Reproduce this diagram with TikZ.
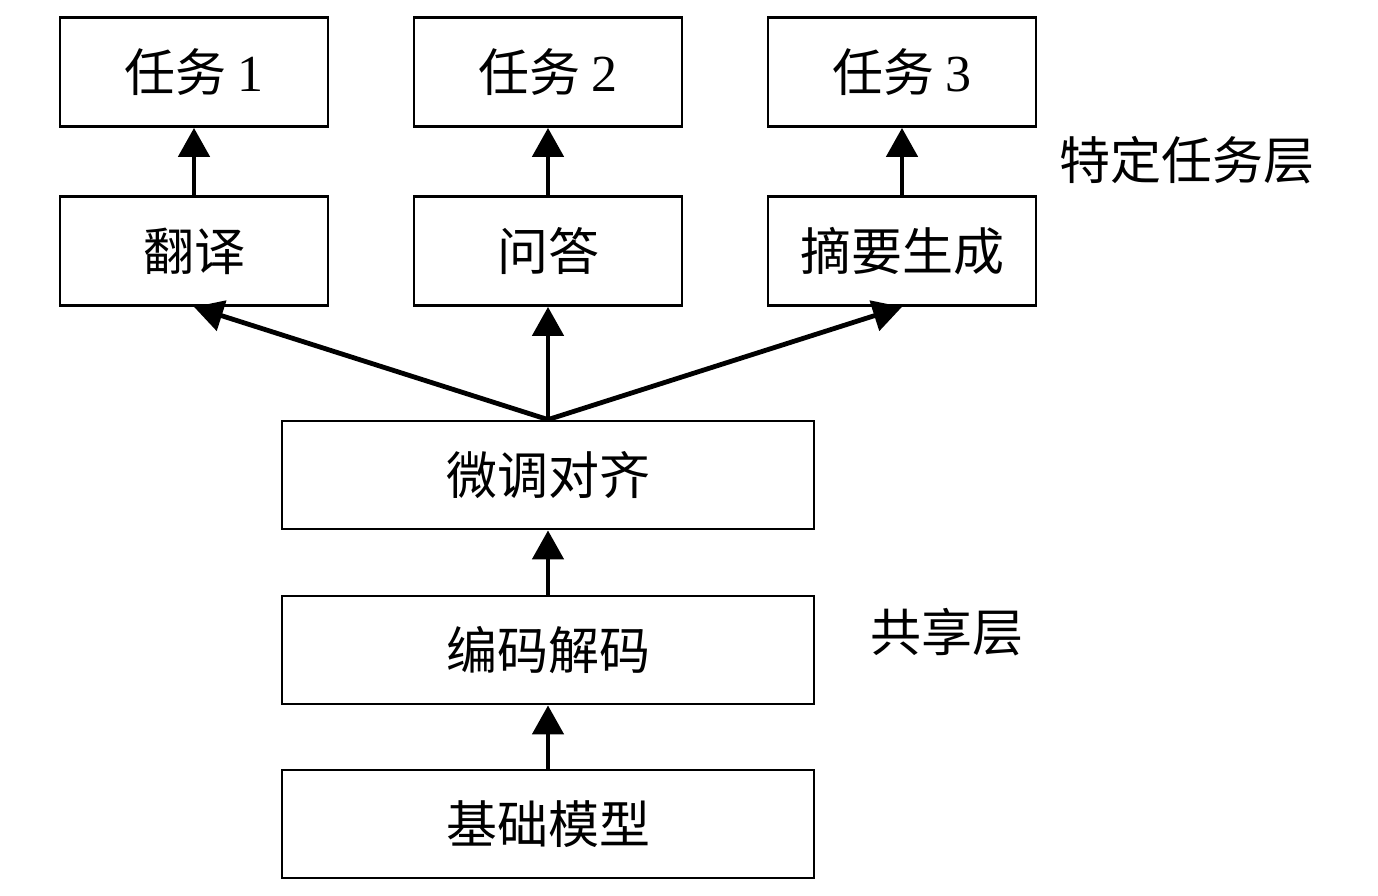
\documentclass[tikz,border=0pt]{standalone}
\usepackage{fontspec}
\setmainfont{Liberation Serif}
\newfontfamily\cjk{Noto Sans CJK SC}
\usetikzlibrary{arrows.meta}
\tikzset{
  box/.style={draw, line width=2.8pt, minimum width=268pt, minimum height=109pt, inner sep=0pt,
    font=\fontsize{51}{60}\selectfont\cjk},
  widebox/.style={box, minimum width=532pt, minimum height=108pt},
  lab/.style={inner sep=0pt, font=\fontsize{51}{60}\selectfont\cjk},
  arr/.style={line width=4.8pt, -{Triangle[width=31pt,length=29pt]}}
}
\newcommand{\dig}[1]{{\fontsize{52}{60}\selectfont\rmfamily #1}}
\begin{document}
\begin{tikzpicture}[x=1pt,y=-1pt]
\useasboundingbox (0,0) rectangle (1378,896);
\node[box] (t1) at (194,72) {任务 \dig{1}};
\node[box] (t2) at (548,72) {任务 \dig{2}};
\node[box] (t3) at (902,72) {任务 \dig{3}};
\node[box] (a1) at (194,251) {翻译};
\node[box] (a2) at (548,251) {问答};
\node[box] (a3) at (902,251) {摘要生成};
\node[widebox] (ft) at (548,475) {微调对齐};
\node[widebox] (ed) at (548,650) {编码解码};
\node[widebox] (bm) at (548,824) {基础模型};
\node[lab] (l1) at (1187,160) {特定任务层};
\node[lab] (l2) at (947,632) {共享层};
\draw[arr] (a1.north) -- (t1.south);
\draw[arr] (a2.north) -- (t2.south);
\draw[arr] (a3.north) -- (t3.south);
\draw[arr] (ft.north) -- (a1.south);
\draw[arr] (ft.north) -- (a2.south);
\draw[arr] (ft.north) -- (a3.south);
\draw[arr] (ed.north) -- (ft.south);
\draw[arr] (bm.north) -- (ed.south);
\end{tikzpicture}
\end{document}
